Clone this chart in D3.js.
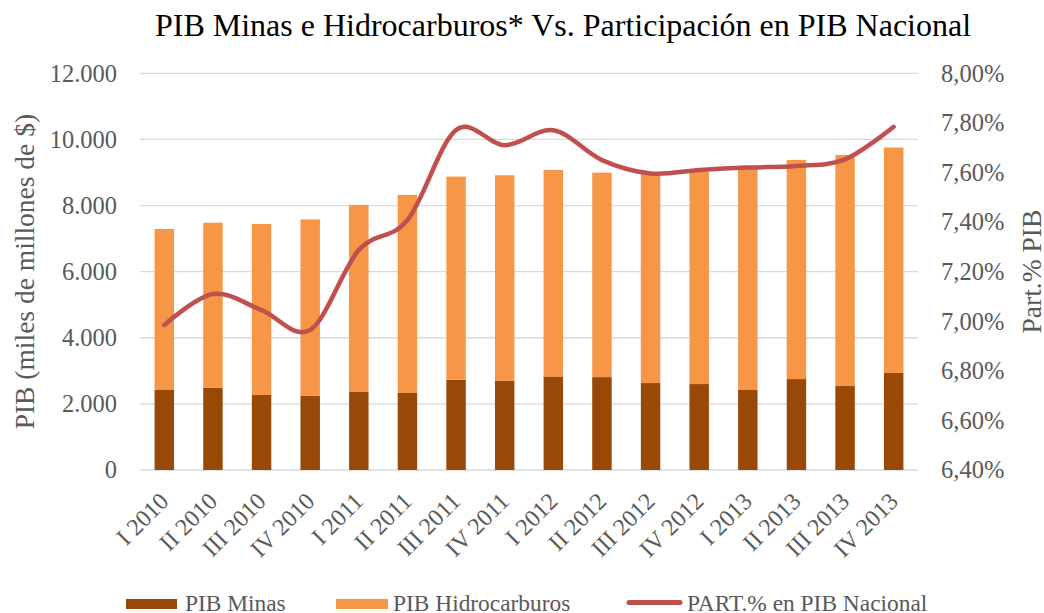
<!DOCTYPE html>
<html><head><meta charset="utf-8">
<script src="https://cdn.jsdelivr.net/npm/d3@7"></script>
<style>
html,body{margin:0;padding:0;background:#fff;}
svg{display:block;}
text{font-family:"Liberation Serif","Times New Roman",serif;}
</style></head>
<body>
<svg id="chart" width="1044" height="613"></svg>
<script>
const categories = ["I 2010","II 2010","III 2010","IV 2010","I 2011","II 2011","III 2011","IV 2011","I 2012","II 2012","III 2012","IV 2012","I 2013","II 2013","III 2013","IV 2013"];
const pibMinas = [2420,2490,2270,2250,2360,2330,2730,2700,2830,2810,2630,2600,2420,2750,2540,2935];
const pibHidro = [4870,4990,5170,5330,5660,5990,6145,6215,6245,6185,6350,6430,6730,6630,6990,6820];
const partPIB = [6.985,7.11,7.045,6.965,7.287,7.408,7.771,7.71,7.77,7.65,7.596,7.61,7.62,7.626,7.653,7.784];
const leftTicks = [0,2000,4000,6000,8000,10000,12000];
const rightTicks = [6.4,6.6,6.8,7.0,7.2,7.4,7.6,7.8,8.0];

const svg = d3.select("#chart");
const L = 140, R = 918, T = 73.3, B = 470;

const x = d3.scaleBand().domain(categories).range([L, R]).paddingInner(0.6).paddingOuter(0.3);
const yL = d3.scaleLinear().domain([0, 12000]).range([B, T]);
const yR = d3.scaleLinear().domain([6.4, 8.0]).range([B, T]);

const fmtL = v => v === 0 ? "0" : d3.format(",")(v).replace(/,/g, ".");
const fmtR = v => v.toFixed(2).replace(".", ",") + "%";

// gridlines
svg.append("g").selectAll("line").data(leftTicks).join("line")
  .attr("x1", L).attr("x2", R)
  .attr("y1", d => yL(d)).attr("y2", d => yL(d))
  .attr("stroke", "#d9d9d9").attr("stroke-width", 1.3);

// bars
const bars = svg.append("g");
bars.selectAll("rect.m").data(categories).join("rect").attr("class","m")
  .attr("x", d => x(d)).attr("width", x.bandwidth())
  .attr("y", (d,i) => yL(pibMinas[i]))
  .attr("height", (d,i) => yL(0) - yL(pibMinas[i]))
  .attr("fill", "#984807");
bars.selectAll("rect.h").data(categories).join("rect").attr("class","h")
  .attr("x", d => x(d)).attr("width", x.bandwidth())
  .attr("y", (d,i) => yL(pibMinas[i] + pibHidro[i]))
  .attr("height", (d,i) => yL(pibMinas[i]) - yL(pibMinas[i] + pibHidro[i]))
  .attr("fill", "#f79646");

// line
const line = d3.line()
  .x((d,i) => x(categories[i]) + x.bandwidth()/2)
  .y(d => yR(d))
  .curve(d3.curveCardinal.tension(0));
svg.append("path").datum(partPIB)
  .attr("d", line)
  .attr("fill", "none").attr("stroke", "#c0504d").attr("stroke-width", 4.5)
  .attr("stroke-linecap", "round").attr("stroke-linejoin", "round");

// left axis labels
svg.append("g").selectAll("text").data(leftTicks).join("text")
  .attr("x", 117).attr("y", d => yL(d)).attr("dy", "0.34em")
  .attr("text-anchor", "end").attr("font-size", 24.5).attr("fill", "#595959")
  .text(fmtL);

// right axis labels
svg.append("g").selectAll("text").data(rightTicks).join("text")
  .attr("x", 941).attr("y", d => yR(d)).attr("dy", "0.34em")
  .attr("text-anchor", "start").attr("font-size", 24.5).attr("fill", "#595959")
  .text(fmtR);

// x labels
svg.append("g").selectAll("text").data(categories).join("text")
  .attr("transform", d => `translate(${x(d) + x.bandwidth()/2},497) rotate(-45)`)
  .attr("dy", "0.34em")
  .attr("text-anchor", "end").attr("font-size", 24).attr("fill", "#595959")
  .text(d => d);

// axis titles
svg.append("text")
  .attr("transform", `translate(33.5,${(T+B)/2}) rotate(-90)`)
  .attr("text-anchor", "middle").attr("font-size", 27.5).attr("fill", "#595959")
  .text("PIB (miles de millones de $)");
svg.append("text")
  .attr("transform", `translate(1041,${(T+B)/2}) rotate(-90)`)
  .attr("text-anchor", "middle").attr("font-size", 27.5).attr("fill", "#595959")
  .text("Part.% PIB");

// title
svg.append("text")
  .attr("x", 563).attr("y", 36)
  .attr("text-anchor", "middle").attr("font-size", 32).attr("fill", "#000")
  .text("PIB Minas e Hidrocarburos* Vs. Participación en PIB Nacional");

// legend
const lg = svg.append("g");
lg.append("rect").attr("x", 126).attr("y", 599).attr("width", 51).attr("height", 10).attr("fill", "#984807");
lg.append("text").attr("x", 185).attr("y", 611).attr("font-size", 23.4).attr("fill", "#595959").text("PIB Minas");
lg.append("rect").attr("x", 336).attr("y", 599).attr("width", 52).attr("height", 10).attr("fill", "#f79646");
lg.append("text").attr("x", 393).attr("y", 611).attr("font-size", 23.4).attr("fill", "#595959").text("PIB Hidrocarburos");
lg.append("line").attr("x1", 629).attr("x2", 680).attr("y1", 602.5).attr("y2", 602.5)
  .attr("stroke", "#c0504d").attr("stroke-width", 5).attr("stroke-linecap", "round");
lg.append("text").attr("x", 687).attr("y", 611).attr("font-size", 23.4).attr("fill", "#595959").text("PART.% en PIB Nacional");
</script>
</body></html>
